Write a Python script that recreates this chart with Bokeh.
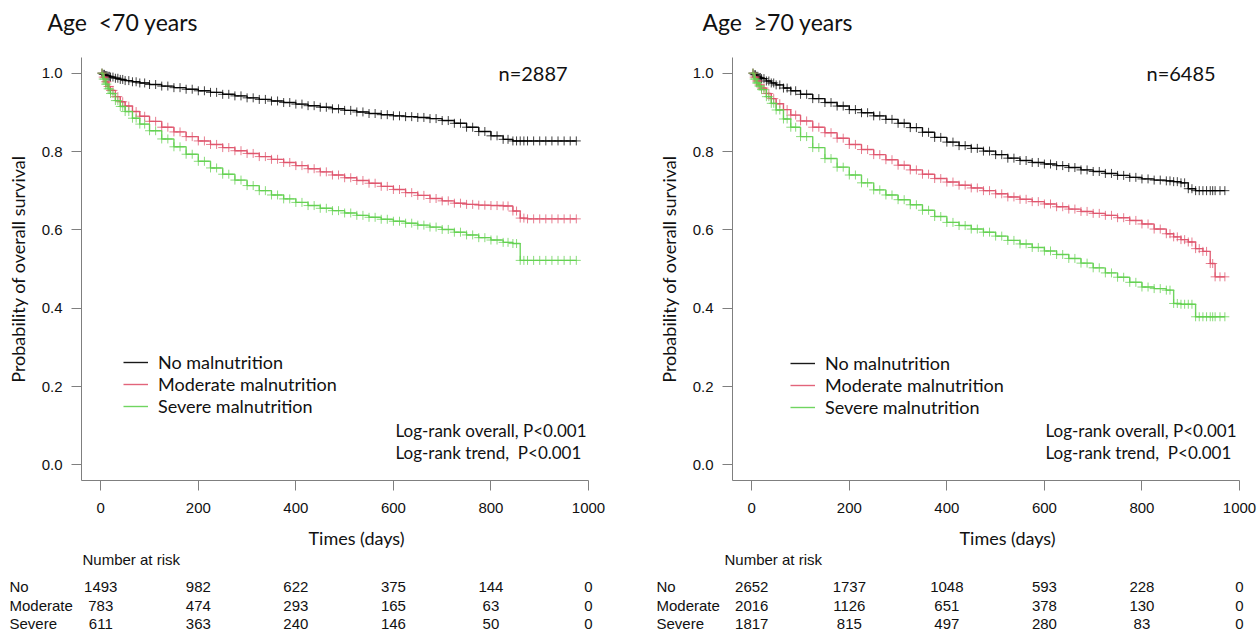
from bokeh.plotting import figure
from bokeh.models import Legend, LegendItem, FixedTicker, Range1d, PrintfTickFormatter
from bokeh.layouts import row, column
from bokeh.embed import file_html
from bokeh.resources import INLINE
from bokeh.core.properties import value

# ---------------- data ----------------
groups = ["No malnutrition", "Moderate malnutrition", "Severe malnutrition"]
risk_groups = ["No", "Moderate", "Severe"]
colors = ["#000000", "#DF536B", "#61D04F"]
x_ticks = [0, 200, 400, 600, 800, 1000]
y_ticks = [0.0, 0.2, 0.4, 0.6, 0.8, 1.0]
risk_times = [0, 200, 400, 600, 800, 1000]

titles = ["Age \u00a0<70 years", "Age \u00a0\u226570 years"]
n_texts = ["n=2887", "n=6485"]
logrank_texts = ["Log-rank overall, P<0.001", "Log-rank trend, \u00a0P<0.001"]

# Age < 70 : Kaplan-Meier estimates (days, probability)
t_young = [0, 5, 10, 15, 20, 30, 40, 50, 65, 80, 100, 125, 150, 175, 200, 225, 250, 275,
           300, 325, 350, 375, 400, 425, 450, 475, 500, 525, 550, 575, 600, 625, 650, 675,
           700, 725, 750, 775, 800, 825, 845, 860, 875, 900, 925, 950, 975]
s_young_no = [1.0, 0.997, 0.994, 0.992, 0.990, 0.987, 0.984, 0.981, 0.978, 0.975, 0.971,
              0.967, 0.963, 0.959, 0.955, 0.951, 0.946, 0.942, 0.937, 0.933, 0.929, 0.925,
              0.921, 0.917, 0.913, 0.909, 0.905, 0.901, 0.897, 0.894, 0.891, 0.889, 0.887,
              0.884, 0.879, 0.872, 0.862, 0.851, 0.840, 0.831, 0.827, 0.827, 0.827, 0.827,
              0.827, 0.827, 0.827]
s_young_mod = [1.0, 0.990, 0.978, 0.966, 0.956, 0.940, 0.927, 0.916, 0.902, 0.890, 0.877,
               0.862, 0.850, 0.838, 0.827, 0.818, 0.810, 0.802, 0.795, 0.787, 0.780, 0.772,
               0.764, 0.756, 0.748, 0.740, 0.733, 0.726, 0.719, 0.711, 0.703, 0.695, 0.688,
               0.680, 0.674, 0.668, 0.665, 0.663, 0.662, 0.661, 0.648, 0.630, 0.628, 0.628,
               0.628, 0.628, 0.628]
s_young_sev = [1.0, 0.985, 0.972, 0.960, 0.948, 0.930, 0.915, 0.902, 0.885, 0.870, 0.853,
               0.832, 0.812, 0.793, 0.775, 0.758, 0.742, 0.727, 0.713, 0.700, 0.689, 0.679,
               0.670, 0.662, 0.655, 0.649, 0.643, 0.637, 0.632, 0.627, 0.622, 0.617, 0.612,
               0.607, 0.601, 0.594, 0.587, 0.580, 0.574, 0.568, 0.565, 0.522, 0.522, 0.522,
               0.522, 0.522, 0.522]
risk_young_no = [1493, 982, 622, 375, 144, 0]
risk_young_mod = [783, 474, 293, 165, 63, 0]
risk_young_sev = [611, 363, 240, 146, 50, 0]

# Age >= 70 : Kaplan-Meier estimates
t_old = [0, 5, 10, 15, 20, 30, 40, 50, 65, 80, 100, 125, 150, 175, 200, 225, 250, 275,
         300, 325, 350, 375, 400, 425, 450, 475, 500, 525, 550, 575, 600, 625, 650, 675,
         700, 725, 750, 775, 800, 825, 850, 865, 880, 895, 910, 925, 940, 950, 970]
s_old_no = [1.0, 0.996, 0.992, 0.989, 0.986, 0.980, 0.975, 0.970, 0.962, 0.955, 0.946,
            0.935, 0.925, 0.916, 0.907, 0.899, 0.891, 0.882, 0.872, 0.861, 0.849, 0.836,
            0.824, 0.815, 0.808, 0.801, 0.792, 0.783, 0.777, 0.772, 0.768, 0.764, 0.759,
            0.753, 0.749, 0.744, 0.739, 0.734, 0.730, 0.727, 0.725, 0.723, 0.720, 0.705,
            0.700, 0.700, 0.700, 0.700, 0.700]
s_old_mod = [1.0, 0.990, 0.980, 0.970, 0.962, 0.948, 0.935, 0.922, 0.907, 0.893, 0.878,
             0.862, 0.848, 0.834, 0.818, 0.805, 0.792, 0.779, 0.765, 0.753, 0.742, 0.731,
             0.722, 0.714, 0.707, 0.700, 0.692, 0.684, 0.678, 0.672, 0.666, 0.659, 0.653,
             0.647, 0.642, 0.637, 0.631, 0.624, 0.615, 0.602, 0.590, 0.582, 0.575, 0.569,
             0.552, 0.545, 0.514, 0.480, 0.480]
s_old_sev = [1.0, 0.985, 0.975, 0.967, 0.958, 0.940, 0.923, 0.906, 0.883, 0.862, 0.838,
             0.810, 0.782, 0.760, 0.740, 0.720, 0.702, 0.689, 0.677, 0.664, 0.650, 0.634,
             0.619, 0.611, 0.602, 0.594, 0.584, 0.573, 0.564, 0.555, 0.546, 0.537, 0.527,
             0.515, 0.503, 0.490, 0.479, 0.466, 0.454, 0.450, 0.446, 0.412, 0.410, 0.410,
             0.378, 0.378, 0.378, 0.378, 0.378]
risk_old_no = [2652, 1737, 1048, 593, 228, 0]
risk_old_mod = [2016, 1126, 651, 378, 130, 0]
risk_old_sev = [1817, 815, 497, 280, 83, 0]

# ---------------- layout ----------------
X0, X1 = -39.5, 1000.0
Y0, Y1 = -0.04, 1.04
FRAME_W, FRAME_H = 507, 423
HEAD_H = 57          # page rows 0..57 : title strip
MAIN_H = 465         # page rows 57..522 : plot (frame 57..480)
FOOT_H = 110         # page rows 522..632 : axis title + number at risk

SANS = "Lato"
ARIAL = "Liberation Sans"
INK = "#111111"


def text_strip(width, height, page_left, page_top, frame_left_page):
    """A figure without axes whose x scale matches the panel's time axis and whose
    y data unit is the page pixel row."""
    def xd(px):
        return X0 + (px - frame_left_page) * (X1 - X0) / FRAME_W
    p = figure(width=width, height=height, output_backend="svg", toolbar_location=None,
               tools="", x_axis_type=None, y_axis_type=None,
               x_range=Range1d(xd(page_left), xd(page_left + width)),
               y_range=Range1d(page_top + height, page_top),
               min_border=0, min_border_left=0, min_border_right=0,
               min_border_top=0, min_border_bottom=0, frame_align=False)
    p.outline_line_color = None
    p.grid.visible = False
    return p, xd


def put(p, xs, ys, texts, font, size, align="left"):
    p.text(x=xs, y=ys, text=texts, text_font=value(font), text_font_size=value(size),
           text_align=align, text_baseline="middle", text_color=INK)


def make_panel(idx, times, series, risks, width, page_left, border_left, pos):
    frame_left_page = page_left + border_left

    # ----- title strip -----
    head, hx = text_strip(width, HEAD_H, page_left, 0, frame_left_page)
    put(head, [hx(pos["title_x"])], [pos["title_y"]], [titles[idx]], SANS, "23px")

    # ----- main KM plot -----
    p = figure(width=width, height=MAIN_H, output_backend="svg", toolbar_location=None,
               tools="", x_range=Range1d(X0, X1), y_range=Range1d(Y0, Y1),
               min_border_left=border_left, min_border_right=width - border_left - FRAME_W,
               min_border_top=0, min_border_bottom=MAIN_H - FRAME_H, frame_align=False)
    p.outline_line_color = None
    p.grid.visible = False

    def xd(px):
        return X0 + (px - frame_left_page) * (X1 - X0) / FRAME_W

    def yd(py):
        return Y1 - (py - HEAD_H) * (Y1 - Y0) / FRAME_H

    for ax in (p.xaxis[0], p.yaxis[0]):
        ax.axis_line_color = "#7f7f7f"
        ax.major_tick_line_color = "#7f7f7f"
        ax.major_tick_out = 10
        ax.major_tick_in = 0
        ax.minor_tick_line_color = None
        ax.major_label_text_font = ARIAL
        ax.major_label_text_font_size = "15px"
        ax.major_label_text_color = INK
    p.xaxis.ticker = FixedTicker(ticks=x_ticks)
    p.xaxis.major_label_standoff = 12
    p.yaxis.ticker = FixedTicker(ticks=y_ticks)
    p.yaxis.formatter = PrintfTickFormatter(format="%.1f")
    p.yaxis.major_label_standoff = 9
    p.yaxis.axis_label = "Probability of overall survival"
    p.yaxis.axis_label_text_font = SANS
    p.yaxis.axis_label_text_font_style = "normal"
    p.yaxis.axis_label_text_font_size = "18px"
    p.yaxis.axis_label_text_color = INK
    p.yaxis.axis_label_standoff = 10

    items = []
    for name, s, c in zip(groups, series, colors):
        r = p.step(times, s, mode="after", line_color=c, line_width=1.4, line_alpha=0.9)
        # censoring ticks along the step curve (at each knot and half way to the next one)
        cx, cy = [], []
        for i in range(1, len(times)):
            cx += [(times[i - 1] + times[i]) / 2, times[i]]
            cy += [s[i - 1], s[i]]
        p.scatter(cx, cy, marker="cross", size=9, line_color=c, line_width=1, line_alpha=0.75)
        items.append(LegendItem(label=name, renderers=[r]))

    leg = Legend(items=items,
                 location=(pos["leg_x"] - frame_left_page, 480 - pos["leg_bottom"]),
                 glyph_width=25, glyph_height=22, label_height=22, label_standoff=10,
                 spacing=0, padding=0, margin=0, border_line_alpha=0,
                 background_fill_alpha=0, label_text_font=SANS,
                 label_text_font_size="18px", label_text_color=INK)
    p.add_layout(leg)

    put(p, [xd(pos["n_x"])], [yd(72)], [n_texts[idx]], SANS, "20px")
    put(p, [xd(pos["lr_x"])] * 2, [yd(429.5), yd(452)], logrank_texts, SANS, "17px")

    # ----- footer: axis title and number-at-risk table -----
    foot, fx = text_strip(width, FOOT_H, page_left, MAIN_H + HEAD_H, frame_left_page)
    put(foot, [fx(pos["times_x"])], [pos["times_y"]], ["Times (days)"], SANS, "18px", "center")
    put(foot, [fx(pos["nar_x"])], [pos["nar_y"]], ["Number at risk"], ARIAL, "15px")
    put(foot, [fx(pos["row_x"])] * 3, pos["rows_y"], risk_groups, ARIAL, "15px")
    for rk, py in zip(risks, pos["rows_y"]):
        put(foot, risk_times, [py] * len(risk_times), [str(v) for v in rk], ARIAL, "15px",
            "center")

    return column(head, p, foot)


pos_left = dict(title_x=47, title_y=21, n_x=498, lr_x=395, times_x=356, times_y=537,
                nar_x=82, nar_y=559, row_x=9, rows_y=[586, 605, 623],
                leg_x=123, leg_bottom=417)
pos_right = dict(title_x=702, title_y=21, n_x=1146, lr_x=1045, times_x=1007, times_y=537,
                 nar_x=724, nar_y=559, row_x=656, rows_y=[586, 605, 623],
                 leg_x=790, leg_bottom=418)

c1 = make_panel(0, t_young, [s_young_no, s_young_mod, s_young_sev],
                [risk_young_no, risk_young_mod, risk_young_sev],
                width=640, page_left=0, border_left=81, pos=pos_left)
c2 = make_panel(1, t_old, [s_old_no, s_old_mod, s_old_sev],
                [risk_old_no, risk_old_mod, risk_old_sev],
                width=619, page_left=640, border_left=92, pos=pos_right)

layout = row(c1, c2)
open("out.html", "w").write(file_html(layout, INLINE))
